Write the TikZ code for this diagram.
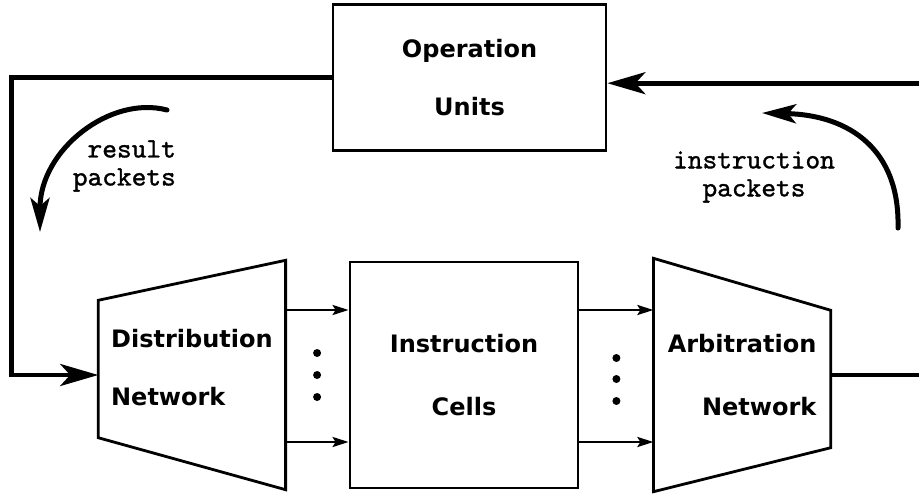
\documentclass[tikz,border=0pt]{standalone}
\usepackage{fontspec}
\usepackage{tikz}
\usetikzlibrary{positioning,calc,arrows.meta}
\newfontfamily\blockfont{DejaVu Sans}
\newfontfamily\notefont[FakeBold=1.2]{lmmono10-regular.otf}

\begin{document}
\begin{tikzpicture}
        [
    x=1pt, y=-1pt,
    basic/.style={line width=2.8pt},
    rect/.style={basic, draw, text centered, align=center},
    trap/.style={inner sep=0pt, minimum width=187pt, minimum height=229pt},
    blocktext/.style={font=\blockfont\bfseries\fontsize{24}{58}\selectfont},
    note/.style={font=\notefont\fontsize{28}{28}\selectfont, inner sep=0pt},
    bus/.style={line width=4.6pt},
    swoop/.style={line width=5pt, line cap=round, -{Stealth[length=34pt, width=19pt, inset=8pt]}},
    link/.style={line width=2.5pt, -{Stealth[length=16pt, width=10pt, inset=3pt]}},
    bullet/.style={circle, fill, inner sep=0pt, minimum size=8pt},
    >={Stealth[length=38pt, width=22pt, inset=10pt]}
    ]
    \useasboundingbox (0,0) rectangle (919,498);
    \clip (0,0) rectangle (919,498);

    % Bloques centrales
    \node [rect, blocktext, minimum width=228pt, minimum height=226pt] (cells) at (464,375) {Instruction\\[5pt]Cells};
    \node [rect, blocktext, minimum width=273pt, minimum height=146pt, above=109pt of cells, xshift=5.5pt] (ops) {Operation\\Units};
    % Redes
    \node [trap, blocktext, align=left, left=63pt of cells] (dist) {Distribution\\Network\\[-42pt]};
    \node [trap, blocktext, align=right, minimum width=177pt, minimum height=233pt, right=74pt of cells] (arb) {Arbitration\\[5pt]Network};
    \draw [basic] (dist.north east) -- (dist.south east) -- ([yshift=52pt]dist.south west) -- ([yshift=-40pt]dist.north west) -- cycle;
    \draw [basic] (arb.north west) -- (arb.south west) -- ([yshift=44pt]arb.south east) -- ([yshift=-52pt]arb.north east) -- cycle;

    % Enlaces entre bloques
    \coordinate (c-top) at ($(cells.west)+(0,-65)$);
    \coordinate (c-bot) at ($(cells.west)+(0,67)$);
    \coordinate (a-top) at ($(arb.west)+(0,-65)$);
    \coordinate (a-bot) at ($(arb.west)+(0,67)$);
    \draw [link] (dist.east |- c-top) -- (c-top);
    \draw [link] (dist.east |- c-bot) -- (c-bot);
    \draw [link] (cells.east |- a-top) -- (a-top);
    \draw [link] (cells.east |- a-bot) -- (a-bot);
    \foreach \i/\dy in {1/-22,2/0,3/22}
      \node [bullet] (ldot\i) at ($(dist.east)!.5!(cells.west)+(0,\dy)$) {};
    \foreach \i/\dy in {1/-17,2/4,3/26}
      \node [bullet] (rdot\i) at ($(cells.east)!.5!(arb.west)+(0,\dy)$) {};

    % Bucle de paquetes
    \draw [bus, ->] (ops.west) -| ($(dist.west)+(-87,0)$) -- (dist.west);
    \coordinate [right=100pt of arb.east] (loop);
    \coordinate (ops-in) at ($(ops.east)+(0,6)$);
    \draw [bus, ->] (arb.east) -- (loop) |- (ops-in);

    % Paquetes de resultado
    \coordinate (res-from) at (167,110);
    \coordinate (res-to) at (40,232);
    \draw [swoop] (res-from) .. controls (110,95) and (40,150) .. (res-to);
    \node [note, align=right, anchor=east] (res) at (176,166) {result\\packets};
    % Paquetes de instruccion
    \coordinate (ins-from) at (898,228);
    \coordinate (ins-to) at (762,113);
    \draw [swoop] (ins-from) .. controls (900,150) and (850,115) .. (ins-to);
    \node [note, align=center] (ins) at (754,177) {instruction\\packets};
\end{tikzpicture}
\end{document}
